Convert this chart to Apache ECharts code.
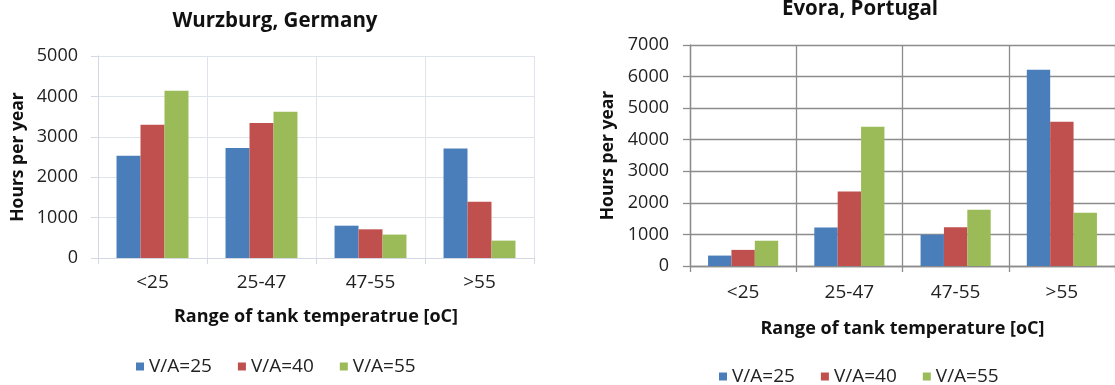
<!DOCTYPE html>
<html>
<head>
<meta charset="utf-8">
<script src="https://cdn.jsdelivr.net/npm/echarts@6/dist/echarts.min.js"></script>
<style>
  html, body { margin: 0; padding: 0; background: #fff; }
  #chart { width: 1115px; height: 385px; }
</style>
</head>
<body>
<div id="chart"></div>
<script>
// Tank temperature ranges (x categories)
const categories = ['<25', '25-47', '47-55', '>55'];
const seriesNames = ['V/A=25', 'V/A=40', 'V/A=55'];
const seriesColors = ['#4a7ebb', '#c0504d', '#9bbb59'];

// Hours per year, Wurzburg
const wurzburgVA25 = [2530, 2720, 800, 2710];
const wurzburgVA40 = [3300, 3340, 710, 1390];
const wurzburgVA55 = [4140, 3620, 580, 430];

// Hours per year, Evora
const evoraVA25 = [330, 1220, 990, 6220];
const evoraVA40 = [510, 2360, 1230, 4570];
const evoraVA55 = [800, 4410, 1780, 1690];

const wurzburgTicks = { min: 0, max: 5000, interval: 1000 };
const evoraTicks = { min: 0, max: 7000, interval: 1000 };

const FONT = '"Open Sans", "Liberation Sans", sans-serif';

function xAxisFor(gridIndex, style) {
  return {
    type: 'category',
    gridIndex: gridIndex,
    data: categories,
    name: style.xName,
    nameLocation: 'middle',
    nameGap: style.xNameGap,
    nameTextStyle: { fontFamily: FONT, fontWeight: 'bold', fontSize: style.nameSize, color: '#111' },
    axisLine: { show: true, lineStyle: { color: style.axisColor, width: style.lineWidth } },
    axisTick: { show: true, length: 6, lineStyle: { color: style.axisColor, width: style.lineWidth } },
    axisLabel: { margin: style.xLabelMargin, fontFamily: FONT, fontSize: style.xLabelSize, color: '#222' },
    splitLine: { show: true, lineStyle: { color: style.gridColor, width: style.lineWidth } }
  };
}

function yAxisFor(gridIndex, ticks, style) {
  return {
    type: 'value',
    gridIndex: gridIndex,
    min: ticks.min,
    max: ticks.max,
    interval: ticks.interval,
    name: 'Hours per year',
    nameLocation: 'middle',
    nameRotate: 90,
    nameGap: style.yNameGap,
    nameTextStyle: { fontFamily: FONT, fontWeight: 'bold', fontSize: style.yNameSize, color: '#111' },
    axisLine: { show: true, lineStyle: { color: style.axisColor, width: style.lineWidth } },
    axisTick: { show: true, length: 7, lineStyle: { color: style.axisColor, width: style.lineWidth } },
    axisLabel: {
      margin: style.yLabelMargin, fontFamily: FONT, fontSize: style.yLabelSize, color: '#222',
      formatter: v => String(v)
    },
    splitLine: { show: true, lineStyle: { color: style.gridColor, width: style.lineWidth } }
  };
}

const leftStyle = {
  xName: 'Range of tank temperatrue [oC]',
  axisColor: '#d3d8e2', gridColor: '#dfe3eb', lineWidth: 1,
  xLabelSize: 19, yLabelSize: 18, nameSize: 18, yNameSize: 17.5,
  xLabelMargin: 15, xNameGap: 50, yLabelMargin: 20, yNameGap: 71
};
const rightStyle = {
  xName: 'Range of tank temperature [oC]',
  axisColor: '#8c8c8c', gridColor: '#8c8c8c', lineWidth: 1.3,
  xLabelSize: 19, yLabelSize: 18, nameSize: 18, yNameSize: 17.5,
  xLabelMargin: 17, xNameGap: 54, yLabelMargin: 21, yNameGap: 73
};

function barSeries(name, color, data, axisIndex) {
  return {
    type: 'bar',
    name: name,
    xAxisIndex: axisIndex,
    yAxisIndex: axisIndex,
    data: data,
    barGap: '0%',
    barCategoryGap: '34%',
    itemStyle: { color: color },
    emphasis: { disabled: true }
  };
}

function legendAt(left, top) {
  return {
    left: left, top: top,
    data: seriesNames,
    icon: 'rect',
    itemWidth: 8, itemHeight: 8,
    itemGap: 26,
    textStyle: { fontFamily: FONT, fontSize: 19, color: '#222' }
  };
}

const chart = echarts.init(document.getElementById('chart'), null, { renderer: 'canvas' });
chart.setOption({
  animation: false,
  backgroundColor: '#ffffff',
  title: [
    { text: 'Wurzburg, Germany', left: 270, top: 6, textAlign: 'center',
      textStyle: { fontFamily: FONT, fontWeight: 'bold', fontSize: 20.5, color: '#111' } },
    { text: 'Evora, Portugal', left: 855, top: -6, textAlign: 'center',
      textStyle: { fontFamily: FONT, fontWeight: 'bold', fontSize: 20.5, color: '#111' } }
  ],
  legend: [legendAt(131, 352), legendAt(714, 362)],
  grid: [
    { left: 98, top: 56, width: 436, height: 202 },
    { left: 690, top: 45, width: 429, height: 221 }
  ],
  xAxis: [xAxisFor(0, leftStyle), xAxisFor(1, rightStyle)],
  yAxis: [yAxisFor(0, wurzburgTicks, leftStyle), yAxisFor(1, evoraTicks, rightStyle)],
  series: [
    barSeries(seriesNames[0], seriesColors[0], wurzburgVA25, 0),
    barSeries(seriesNames[1], seriesColors[1], wurzburgVA40, 0),
    barSeries(seriesNames[2], seriesColors[2], wurzburgVA55, 0),
    barSeries(seriesNames[0], seriesColors[0], evoraVA25, 1),
    barSeries(seriesNames[1], seriesColors[1], evoraVA40, 1),
    barSeries(seriesNames[2], seriesColors[2], evoraVA55, 1)
  ]
});
</script>
</body>
</html>
